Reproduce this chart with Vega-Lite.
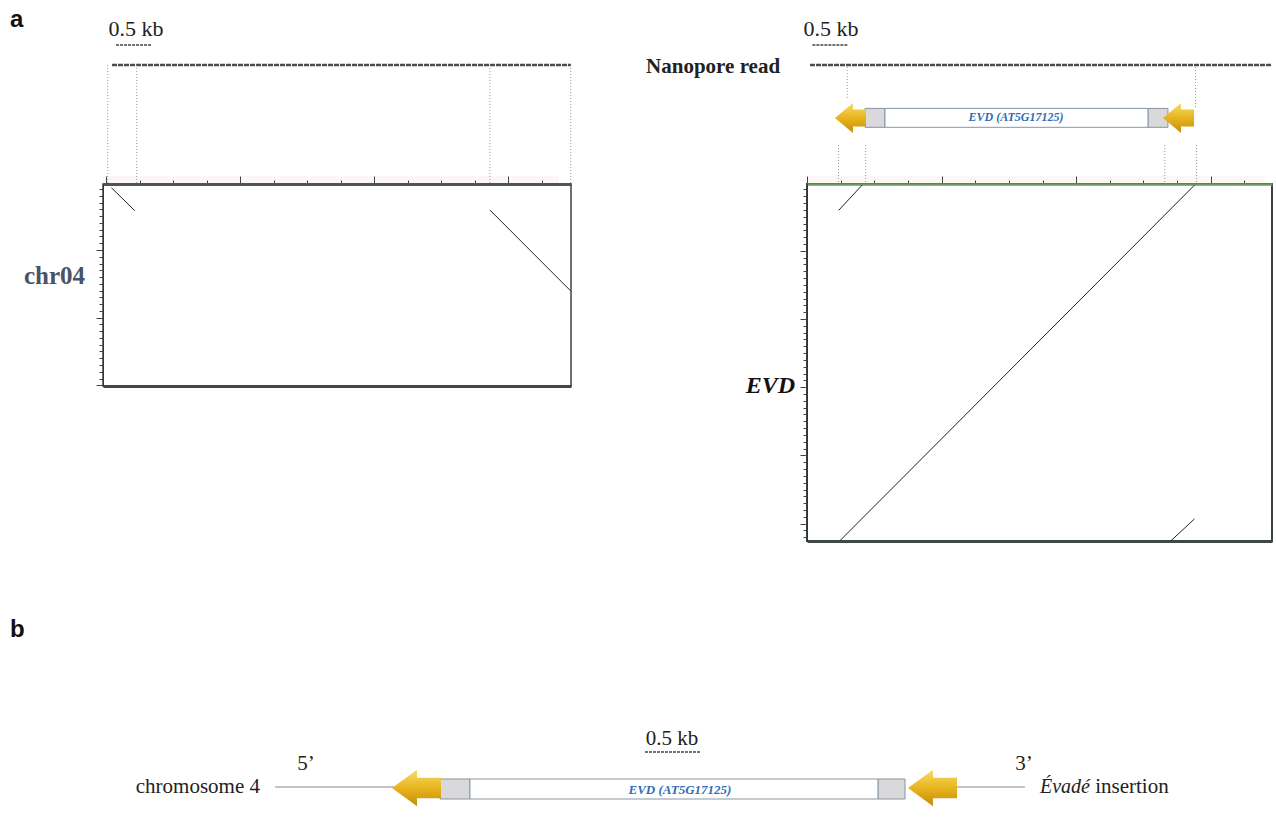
{
  "$schema": "https://vega.github.io/schema/vega-lite/v6.json",
  "background": "white",
  "padding": {"left": 10, "top": 0, "right": 0, "bottom": 0},
  "autosize": {"type": "pad"},
  "config": {"view": {"stroke": null}, "font": "Liberation Serif", "text": {"font": "Liberation Serif"}},
  "columns": 2,
  "bounds": "flush",
  "spacing": {"row": 0, "column": 236},
  "concat": [
    {
      "width": 468, "height": 184,
      "layer": [
        {
          "data": {"values": [{"x": -0.045, "x2": 6.76, "y": 95.6, "y2": 99.5}]},
          "mark": {"type": "rect", "fill": "#fdf6f6"},
          "encoding": {
            "x": {"field": "x", "type": "quantitative", "scale": {"domain": [-0.045, 6.94], "nice": false, "zero": false}, "axis": null},
            "x2": {"field": "x2"},
            "y": {"field": "y", "type": "quantitative", "scale": {"domain": [0, 100], "nice": false, "zero": false, "reverse": true}, "axis": null},
            "y2": {"field": "y2"}
          }
        },
        {
          "data": {"values": [{"x": -1.433, "y": 14.7, "t": "a"}]},
          "mark": {"type": "text", "font": "Liberation Sans", "fontWeight": "bold", "fontSize": 24, "align": "left", "baseline": "alphabetic", "clip": false, "color": "#111"},
          "encoding": {
            "x": {"field": "x", "type": "quantitative"},
            "y": {"field": "y", "type": "quantitative"},
            "text": {"field": "t"}
          }
        },
        {
          "data": {"values": [{"x": 0.4475, "y": 19.6, "t": "0.5 kb"}]},
          "mark": {"type": "text", "font": "Liberation Serif", "fontSize": 22, "align": "center", "baseline": "alphabetic", "color": "#222"},
          "encoding": {
            "x": {"field": "x", "type": "quantitative"},
            "y": {"field": "y", "type": "quantitative"},
            "text": {"field": "t"}
          }
        },
        {
          "data": {"values": [{"x": 0.149, "x2": 0.686, "y": 24.5}]},
          "mark": {"type": "rule", "color": "#444", "strokeWidth": 1.5, "strokeDash": [3, 1]},
          "encoding": {"x": {"field": "x", "type": "quantitative"}, "x2": {"field": "x2"}, "y": {"field": "y", "type": "quantitative"}}
        },
        {
          "data": {"values": [{"x": 0.089, "x2": 6.94, "y": 35.3}]},
          "mark": {"type": "rule", "color": "#4d4d4d", "strokeWidth": 2.5, "strokeDash": [5, 1]},
          "encoding": {"x": {"field": "x", "type": "quantitative"}, "x2": {"field": "x2"}, "y": {"field": "y", "type": "quantitative"}}
        },
        {
          "data": {"values": [{"x": 0.025, "y": 35.3, "y2": 100}, {"x": 0.458, "y": 35.3, "y2": 100}, {"x": 5.73, "y": 35.3, "y2": 100}, {"x": 6.935, "y": 35.3, "y2": 100}]},
          "mark": {"type": "rule", "color": "#9a9a9a", "strokeWidth": 1, "strokeDash": [1, 2]},
          "encoding": {"x": {"field": "x", "type": "quantitative"}, "y": {"field": "y", "type": "quantitative"}, "y2": {"field": "y2"}}
        }
      ]
    },
    {
      "width": 465, "height": 184,
      "layer": [
        {
          "data": {"values": [{"x": 0, "x2": 6.8, "y": 95.6, "y2": 99.5}]},
          "mark": {"type": "rect", "fill": "#fdf6f6"},
          "encoding": {
            "x": {"field": "x", "type": "quantitative", "scale": {"domain": [0, 6.91], "nice": false, "zero": false}, "axis": null},
            "x2": {"field": "x2"},
            "y": {"field": "y", "type": "quantitative", "scale": {"domain": [0, 100], "nice": false, "zero": false, "reverse": true}, "axis": null},
            "y2": {"field": "y2"}
          }
        },
        {
          "data": {"values": [{"x": 0.357, "y": 19.6, "t": "0.5 kb"}]},
          "mark": {"type": "text", "font": "Liberation Serif", "fontSize": 22, "align": "center", "baseline": "alphabetic", "color": "#222"},
          "encoding": {
            "x": {"field": "x", "type": "quantitative"},
            "y": {"field": "y", "type": "quantitative"},
            "text": {"field": "t"}
          }
        },
        {
          "data": {"values": [{"x": -0.4, "y": 39.7, "t": "Nanopore read"}]},
          "mark": {"type": "text", "font": "Liberation Serif", "fontSize": 21, "fontWeight": "bold", "align": "right", "baseline": "alphabetic", "color": "#222", "clip": false},
          "encoding": {"x": {"field": "x", "type": "quantitative"}, "y": {"field": "y", "type": "quantitative"}, "text": {"field": "t"}}
        },
        {
          "data": {"values": [{"x": 0.08, "x2": 0.6, "y": 24.5}]},
          "mark": {"type": "rule", "color": "#444", "strokeWidth": 1.5, "strokeDash": [3, 1]},
          "encoding": {"x": {"field": "x", "type": "quantitative"}, "x2": {"field": "x2"}, "y": {"field": "y", "type": "quantitative"}}
        },
        {
          "data": {"values": [{"x": 0.045, "x2": 6.9, "y": 35.3}]},
          "mark": {"type": "rule", "color": "#4d4d4d", "strokeWidth": 2.5, "strokeDash": [5, 1]},
          "encoding": {"x": {"field": "x", "type": "quantitative"}, "x2": {"field": "x2"}, "y": {"field": "y", "type": "quantitative"}}
        },
        {
          "data": {"values": [{"x": 0.599, "y": 36.4, "y2": 54.3}, {"x": 5.773, "y": 36.4, "y2": 58.2}, {"x": 0.467, "y": 78.8, "y2": 100}, {"x": 0.871, "y": 78.8, "y2": 100}, {"x": 5.317, "y": 78.8, "y2": 100}, {"x": 5.79, "y": 78.8, "y2": 100}]},
          "mark": {"type": "rule", "color": "#9a9a9a", "strokeWidth": 1, "strokeDash": [1, 2]},
          "encoding": {"x": {"field": "x", "type": "quantitative"}, "y": {"field": "y", "type": "quantitative"}, "y2": {"field": "y2"}}
        },
        {
          "data": {"values": [{"x": 0.862, "x2": 1.159, "y": 58.9, "y2": 69.2}, {"x": 5.067, "x2": 5.364, "y": 58.9, "y2": 69.2}]},
          "mark": {"type": "rect", "fill": "#d9d9db", "stroke": "#8a949c", "strokeWidth": 1},
          "encoding": {"x": {"field": "x", "type": "quantitative"}, "x2": {"field": "x2"}, "y": {"field": "y", "type": "quantitative"}, "y2": {"field": "y2"}}
        },
        {
          "data": {"values": [{"x": 1.159, "x2": 5.067, "y": 58.9, "y2": 69.2}]},
          "mark": {"type": "rect", "fill": "#ffffff", "stroke": "#8797a5", "strokeWidth": 1},
          "encoding": {"x": {"field": "x", "type": "quantitative"}, "x2": {"field": "x2"}, "y": {"field": "y", "type": "quantitative"}, "y2": {"field": "y2"}}
        },
        {
          "data": {"values": [{"x": 0.646, "y": 64.1}, {"x": 5.521, "y": 64.1}]},
          "mark": {"type": "point", "shape": "M -1 0 L 0.16 -0.97 L 0.16 -0.55 L 1 -0.55 L 1 0.55 L 0.16 0.55 L 0.16 0.97 Z", "size": 961, "filled": true, "opacity": 1, "strokeWidth": 0,
            "fill": {"gradient": "linear", "x1": 0, "y1": 0, "x2": 0, "y2": 1, "stops": [{"offset": 0, "color": "#f7dd6c"}, {"offset": 0.5, "color": "#e8b41c"}, {"offset": 1, "color": "#c58d0c"}]}},
          "encoding": {"x": {"field": "x", "type": "quantitative"}, "y": {"field": "y", "type": "quantitative"}}
        },
        {
          "data": {"values": [{"x": 3.106, "y": 63.6, "t": "EVD (AT5G17125)"}]},
          "mark": {"type": "text", "font": "Liberation Serif", "fontSize": 12, "fontWeight": "bold", "fontStyle": "italic", "align": "center", "baseline": "middle", "color": "#2f6db5"},
          "encoding": {"x": {"field": "x", "type": "quantitative"}, "y": {"field": "y", "type": "quantitative"}, "text": {"field": "t"}}
        }
      ]
    },
    {
      "width": 468, "height": 202,
      "view": {"stroke": "#3b4242", "strokeWidth": 1.5},
      "resolve": {"axis": {"x": "independent"}},
      "layer": [
        {
          "data": {"values": [{"x": 0.08, "y": 0.08, "x2": 0.43, "y2": 0.42}, {"x": 5.73, "y": 0.41, "x2": 6.93, "y2": 1.6}]},
          "mark": {"type": "rule", "color": "#222", "strokeWidth": 1},
          "encoding": {
            "x": {"field": "x", "type": "quantitative", "scale": {"domain": [-0.045, 6.94], "nice": false, "zero": false},
              "axis": {"orient": "top", "values": [0, 0.5, 1, 1.5, 2, 2.5, 3, 3.5, 4, 4.5, 5, 5.5, 6, 6.5], "labels": false, "grid": false, "title": null,
                "tickSize": {"condition": {"test": "datum.value % 2 === 0", "value": 8}, "value": 4}, "tickColor": "#444", "tickWidth": 1,
                "domainColor": "#4d5656", "domainWidth": 3}},
            "x2": {"field": "x2"},
            "y": {"field": "y", "type": "quantitative", "scale": {"domain": [0.025, 3.01], "nice": false, "zero": false, "reverse": true},
              "axis": {"orient": "left", "values": [0.1, 0.2, 0.3, 0.4, 0.5, 0.6, 0.7, 0.8, 0.9, 1, 1.1, 1.2, 1.3, 1.4, 1.5, 1.6, 1.7, 1.8, 1.9, 2, 2.1, 2.2, 2.3, 2.4, 2.5, 2.6, 2.7, 2.8, 2.9, 3],
                "labels": false, "grid": false, "tickSize": {"condition": {"test": "datum.value % 1 === 0", "value": 7}, "value": 4}, "tickColor": "#444",
                "domainColor": "#333", "domainWidth": 1,
                "title": "chr04", "titleAngle": 0, "titleX": -49, "titleY": 91, "titleAlign": "center", "titleBaseline": "middle",
                "titleFont": "Liberation Serif", "titleFontSize": 25, "titleFontWeight": "bold", "titleColor": "#4a5363"}},
            "y2": {"field": "y2"}
          }
        },
        {
          "data": {"values": [{"x": 1}]},
          "mark": {"type": "rule", "opacity": 0},
          "encoding": {
            "x": {"field": "x", "type": "quantitative", "axis": {"orient": "bottom", "ticks": false, "labels": false, "grid": false, "title": null, "domainColor": "#3f4848", "domainWidth": 3}}
          }
        }
      ]
    },
    {
      "width": 465, "height": 357,
      "view": {"stroke": "#3b4242", "strokeWidth": 2},
      "resolve": {"axis": {"x": "independent"}},
      "layer": [
        {
          "data": {"values": [{"x": 0.49, "y": 5.25, "x2": 5.76, "y2": 0.035}, {"x": 0.471, "y": 0.406, "x2": 0.819, "y2": 0.036}, {"x": 5.41, "y": 5.25, "x2": 5.757, "y2": 4.932}]},
          "mark": {"type": "rule", "color": "#222", "strokeWidth": 1},
          "encoding": {
            "x": {"field": "x", "type": "quantitative", "scale": {"domain": [0, 6.91], "nice": false, "zero": false},
              "axis": {"orient": "top", "values": [0, 0.5, 1, 1.5, 2, 2.5, 3, 3.5, 4, 4.5, 5, 5.5, 6, 6.5], "labels": false, "grid": false, "title": null,
                "tickSize": {"condition": {"test": "datum.value % 2 === 0", "value": 8}, "value": 4}, "tickColor": "#444", "tickWidth": 1,
                "domainColor": "#6a9a5e", "domainWidth": 2.5}},
            "x2": {"field": "x2"},
            "y": {"field": "y", "type": "quantitative", "scale": {"domain": [0.02, 5.255], "nice": false, "zero": false, "reverse": true},
              "axis": {"orient": "left", "values": [0.1, 0.2, 0.3, 0.4, 0.5, 0.6, 0.7, 0.8, 0.9, 1, 1.1, 1.2, 1.3, 1.4, 1.5, 1.6, 1.7, 1.8, 1.9, 2, 2.1, 2.2, 2.3, 2.4, 2.5, 2.6, 2.7, 2.8, 2.9, 3, 3.1, 3.2, 3.3, 3.4, 3.5, 3.6, 3.7, 3.8, 3.9, 4, 4.1, 4.2, 4.3, 4.4, 4.5, 4.6, 4.7, 4.8, 4.9, 5, 5.1, 5.2],
                "labels": false, "grid": false, "tickSize": {"condition": {"test": "datum.value % 1 === 0", "value": 7}, "value": 4}, "tickColor": "#444",
                "domainColor": "#333", "domainWidth": 1,
                "title": "EVD", "titleAngle": 0, "titleX": -37, "titleY": 201, "titleAlign": "center", "titleBaseline": "middle",
                "titleFont": "Liberation Serif", "titleFontSize": 24, "titleFontWeight": "bold", "titleFontStyle": "italic", "titleColor": "#111"}},
            "y2": {"field": "y2"}
          }
        },
        {
          "data": {"values": [{"x": 1}]},
          "mark": {"type": "rule", "opacity": 0},
          "encoding": {
            "x": {"field": "x", "type": "quantitative", "axis": {"orient": "bottom", "ticks": false, "labels": false, "grid": false, "title": null, "domainColor": "#3f4848", "domainWidth": 3}}
          }
        }
      ]
    },
    {
      "width": 468, "height": 278,
      "layer": [
        {
          "data": {"values": [{"x": -0.845, "y": 34.53, "t": "b"}]},
          "mark": {"type": "text", "font": "Liberation Sans", "fontWeight": "bold", "fontSize": 24, "align": "left", "baseline": "alphabetic", "clip": false, "color": "#111"},
          "encoding": {
            "x": {"field": "x", "type": "quantitative", "scale": {"domain": [0, 4.2545], "nice": false, "zero": false}, "axis": null},
            "y": {"field": "y", "type": "quantitative", "scale": {"domain": [0, 100], "nice": false, "zero": false, "reverse": true}, "axis": null},
            "text": {"field": "t"}
          }
        },
        {
          "data": {"values": [{"x": 5.173, "y": 73.38, "t": "0.5 kb"}, {"x": 1.845, "y": 82.37, "t": "5’"}, {"x": 8.373, "y": 82.37, "t": "3’"}]},
          "mark": {"type": "text", "font": "Liberation Serif", "fontSize": 21, "align": "center", "baseline": "alphabetic", "color": "#222"},
          "encoding": {"x": {"field": "x", "type": "quantitative"}, "y": {"field": "y", "type": "quantitative"}, "text": {"field": "t"}}
        },
        {
          "data": {"values": [{"x": 1.427, "y": 90.65, "t": "chromosome 4"}]},
          "mark": {"type": "text", "font": "Liberation Serif", "fontSize": 21, "align": "right", "baseline": "alphabetic", "color": "#222"},
          "encoding": {"x": {"field": "x", "type": "quantitative"}, "y": {"field": "y", "type": "quantitative"}, "text": {"field": "t"}}
        },
        {
          "data": {"values": [{"x": 8.518, "y": 90.65, "t": "Évadé"}]},
          "mark": {"type": "text", "font": "Liberation Serif", "fontSize": 20, "fontStyle": "italic", "align": "left", "baseline": "alphabetic", "color": "#222"},
          "encoding": {"x": {"field": "x", "type": "quantitative"}, "y": {"field": "y", "type": "quantitative"}, "text": {"field": "t"}}
        },
        {
          "data": {"values": [{"x": 9.02, "y": 90.65, "t": "insertion"}]},
          "mark": {"type": "text", "font": "Liberation Serif", "fontSize": 21, "align": "left", "baseline": "alphabetic", "color": "#222"},
          "encoding": {"x": {"field": "x", "type": "quantitative"}, "y": {"field": "y", "type": "quantitative"}, "text": {"field": "t"}}
        },
        {
          "data": {"values": [{"x": 4.927, "x2": 5.427, "y": 75.9}]},
          "mark": {"type": "rule", "color": "#444", "strokeWidth": 1.5, "strokeDash": [3, 1]},
          "encoding": {"x": {"field": "x", "type": "quantitative"}, "x2": {"field": "x2"}, "y": {"field": "y", "type": "quantitative"}}
        },
        {
          "data": {"values": [{"x": 1.564, "x2": 2.68, "y": 88.49}, {"x": 7.745, "x2": 8.382, "y": 88.49}]},
          "mark": {"type": "rule", "color": "#8a8a8a", "strokeWidth": 1.2},
          "encoding": {"x": {"field": "x", "type": "quantitative"}, "x2": {"field": "x2"}, "y": {"field": "y", "type": "quantitative"}}
        },
        {
          "data": {"values": [{"x": 3.064, "x2": 3.336, "y": 85.61, "y2": 92.81}, {"x": 7.045, "x2": 7.291, "y": 85.61, "y2": 92.81}]},
          "mark": {"type": "rect", "fill": "#d9d9db", "stroke": "#8a949c", "strokeWidth": 1},
          "encoding": {"x": {"field": "x", "type": "quantitative"}, "x2": {"field": "x2"}, "y": {"field": "y", "type": "quantitative"}, "y2": {"field": "y2"}}
        },
        {
          "data": {"values": [{"x": 3.336, "x2": 7.045, "y": 85.61, "y2": 92.81}]},
          "mark": {"type": "rect", "fill": "#ffffff", "stroke": "#8797a5", "strokeWidth": 1},
          "encoding": {"x": {"field": "x", "type": "quantitative"}, "x2": {"field": "x2"}, "y": {"field": "y", "type": "quantitative"}, "y2": {"field": "y2"}}
        },
        {
          "data": {"values": [{"x": 2.85, "y": 88.85}, {"x": 7.541, "y": 88.85}]},
          "mark": {"type": "point", "shape": "M -1 0 L 0.02 -0.74 L 0.02 -0.42 L 1 -0.42 L 1 0.42 L 0.02 0.42 L 0.02 0.74 Z", "size": 2401, "filled": true, "opacity": 1, "strokeWidth": 0,
            "fill": {"gradient": "linear", "x1": 0, "y1": 0, "x2": 0, "y2": 1, "stops": [{"offset": 0, "color": "#f7dd6c"}, {"offset": 0.5, "color": "#e8b41c"}, {"offset": 1, "color": "#c58d0c"}]}},
          "encoding": {"x": {"field": "x", "type": "quantitative"}, "y": {"field": "y", "type": "quantitative"}}
        },
        {
          "data": {"values": [{"x": 5.245, "y": 89.57, "t": "EVD (AT5G17125)"}]},
          "mark": {"type": "text", "font": "Liberation Serif", "fontSize": 13, "fontWeight": "bold", "fontStyle": "italic", "align": "center", "baseline": "middle", "color": "#2f6db5"},
          "encoding": {"x": {"field": "x", "type": "quantitative"}, "y": {"field": "y", "type": "quantitative"}, "text": {"field": "t"}}
        }
      ]
    }
  ]
}
